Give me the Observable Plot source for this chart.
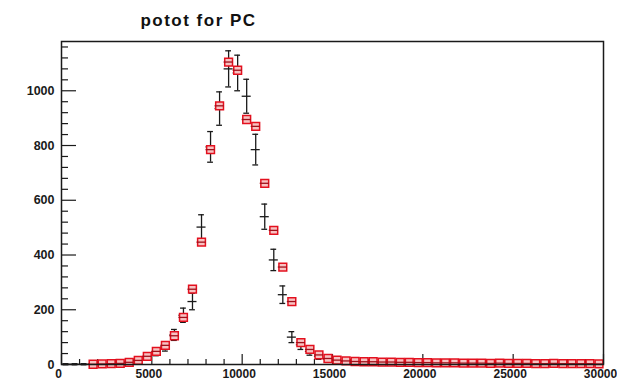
<!DOCTYPE html>
<html>
<head>
<meta charset="utf-8">
<script src="https://cdn.jsdelivr.net/npm/d3@7"></script>
<script src="https://cdn.jsdelivr.net/npm/@observablehq/plot@0.6"></script>
<style>
  body { margin: 0; background: #fff; }
  #chart svg { display: block; }
</style>
</head>
<body>
<div id="chart"></div>
<script>
// Histogram of potot, 500-wide bins from 0 to 30000
const title = "potot for PC";
const binWidth = 500;
const binCenters = [
  250, 750, 1250, 1750, 2250, 2750, 3250, 3750, 4250, 4750,
  5250, 5750, 6250, 6750, 7250, 7750, 8250, 8750, 9250, 9750,
  10250, 10750, 11250, 11750, 12250, 12750, 13250, 13750, 14250, 14750,
  15250, 15750, 16250, 16750, 17250, 17750, 18250, 18750, 19250, 19750,
  20250, 20750, 21250, 21750, 22250, 22750, 23250, 23750, 24250, 24750,
  25250, 25750, 26250, 26750, 27250, 27750, 28250, 28750, 29250, 29750
];

// Data (black crosses) with their errors
const dataCounts = [
  1, 1, 1, 2, 2, 3, 5, 9, 16, 28,
  45, 65, 108, 180, 230, 502, 795, 935, 1080, 1065,
  980, 785, 540, 382, 255, 100, 72, 48, 30, 20,
  14, 12, 11, 10, 9, 9, 8, 8, 7, 7,
  6, 6, 6, 5, 5, 5, 4, 5, 4, 4,
  4, 3, 3, 4, 3, 3, 3, 3, 2, 3
];
const dataErrors = [
  2, 2, 2, 3, 3, 3, 4, 6, 8, 10,
  13, 16, 20, 26, 30, 45, 56, 61, 66, 65,
  62, 56, 46, 39, 32, 20, 17, 14, 11, 9,
  7, 7, 7, 6, 6, 6, 6, 6, 5, 5,
  5, 5, 5, 4, 4, 4, 4, 4, 4, 4,
  4, 3, 3, 4, 3, 3, 3, 3, 3, 3
];

// Simulation (red squares); empty leading bins are not drawn
const simCounts = [
  null, null, null, 1, 2, 3, 4, 8, 15, 30,
  48, 70, 105, 172, 275, 447, 785, 945, 1105, 1075,
  895, 870, 662, 490, 356, 230, 80, 55, 35, 22,
  16, 13, 11, 10, 10, 9, 9, 8, 8, 7,
  7, 6, 6, 6, 5, 5, 5, 4, 5, 4,
  4, 4, 3, 3, 4, 3, 3, 3, 3, 2
];

const xMajor = [0, 5000, 10000, 15000, 20000, 25000, 30000];
const xMinor = [1000, 2000, 3000, 4000, 6000, 7000, 8000, 9000, 11000, 12000, 13000, 14000,
  16000, 17000, 18000, 19000, 21000, 22000, 23000, 24000, 26000, 27000, 28000, 29000];
const yMajor = [0, 200, 400, 600, 800, 1000];
const yMinor = [40, 80, 120, 160, 240, 280, 320, 360, 440, 480, 520, 560, 640, 680, 720, 760,
  840, 880, 920, 960, 1040, 1080, 1120, 1160];

const W = 617, H = 385;
const mL = 61, mR = 14, mT = 41, mB = 21;
const plotW = W - mL - mR, plotH = H - mT - mB;

const dataRows = binCenters.map((c, i) => ({
  x: c, lo: c - binWidth / 2, hi: c + binWidth / 2,
  capLo: c - binWidth * 0.32, capHi: c + binWidth * 0.32,
  y: dataCounts[i], y1: dataCounts[i] - dataErrors[i], y2: dataCounts[i] + dataErrors[i]
}));
const simRows = binCenters
  .map((c, i) => ({x: c, lo: c - binWidth / 2, hi: c + binWidth / 2, y: simCounts[i]}))
  .filter(d => d.y != null);

const ink = "#1a1a1a";
const red = "#e3101e";

const chart = Plot.plot({
  width: W, height: H,
  marginLeft: mL, marginRight: mR, marginTop: mT, marginBottom: mB,
  style: {fontFamily: "'Liberation Sans', Arial, sans-serif", fontSize: "12px", fontWeight: "bold", color: ink, background: "#fff"},
  x: {domain: [0, 30000]},
  y: {domain: [0, 1180]},
  marks: [
    // ticks drawn inward from the bottom and left edges
    Plot.ruleX(xMinor, {stroke: ink, strokeWidth: 1.2, insetTop: plotH - 5}),
    Plot.ruleX(xMajor, {stroke: ink, strokeWidth: 1.2, insetTop: plotH - 10}),
    Plot.ruleY(yMinor, {stroke: ink, strokeWidth: 1.2, insetRight: plotW - 7}),
    Plot.ruleY(yMajor, {stroke: ink, strokeWidth: 1.2, insetRight: plotW - 15}),
    Plot.axisX({ticks: xMajor, tickSize: 0, tickPadding: 5, dx: -3, tickFormat: d => String(d)}),
    Plot.axisY({ticks: yMajor, tickSize: 0, tickPadding: 7, fontSize: 12.5, tickFormat: d => String(d)}),
    // data: vertical error, bin-width arm, end caps
    Plot.ruleX(dataRows, {x: "x", y1: "y1", y2: "y2", stroke: ink, strokeWidth: 1.3}),
    Plot.ruleY(dataRows, {y: "y", x1: "lo", x2: "hi", stroke: ink, strokeWidth: 1.3}),
    Plot.ruleY(dataRows, {y: "y1", x1: "capLo", x2: "capHi", stroke: ink, strokeWidth: 1.3}),
    Plot.ruleY(dataRows, {y: "y2", x1: "capLo", x2: "capHi", stroke: ink, strokeWidth: 1.3}),
    // simulation: open squares with bin-width arm
    Plot.dot(simRows, {x: "x", y: "y", symbol: "square", r: 4.4, stroke: red, strokeWidth: 1.5, fill: "#f7c2c2"}),
    Plot.ruleY(simRows, {y: "y", x1: "lo", x2: "hi", stroke: "#a0101a", strokeWidth: 1.3}),
    Plot.frame({stroke: ink, strokeWidth: 1.5}),
    Plot.text([title], {frameAnchor: "top-left", dx: 137, dy: -16, lineAnchor: "bottom",
      textAnchor: "middle", fontSize: 17, fontWeight: "bold", fill: "#111"})
  ]
});

d3.select(chart).selectAll("g[aria-label=text] text").style("letter-spacing", "1.5px");
document.getElementById("chart").appendChild(chart);
</script>
</body>
</html>
